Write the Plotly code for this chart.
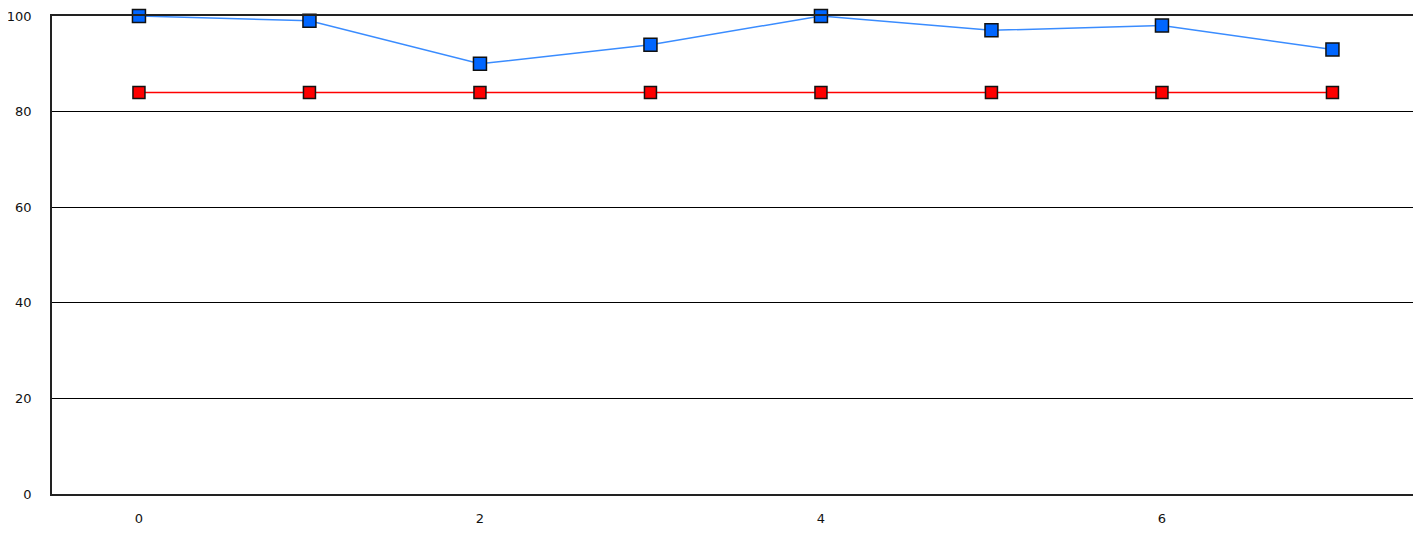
import plotly.graph_objects as go

x_vals = [0, 1, 2, 3, 4, 5, 6, 7]
blue_vals = [100, 99, 90, 94, 100, 97, 98, 93]
red_vals = [84, 84, 84, 84, 84, 84, 84, 84]
x_ticks = [0, 2, 4, 6]
y_ticks = [0, 20, 40, 60, 80, 100]

fig = go.Figure()
fig.add_trace(go.Scatter(
    x=x_vals, y=red_vals, mode="lines+markers",
    line=dict(color="#ff0000", width=1.5),
    marker=dict(symbol="square", size=12, color="#ff0000", line=dict(color="#111111", width=1.5)),
    cliponaxis=False, showlegend=False))
fig.add_trace(go.Scatter(
    x=x_vals, y=blue_vals, mode="lines+markers",
    line=dict(color="#3a8cff", width=1.5),
    marker=dict(symbol="square", size=13, color="#0066ff", line=dict(color="#111111", width=1.5)),
    cliponaxis=False, showlegend=False))

fig.update_layout(
    width=1413, height=529,
    margin=dict(l=44, r=5, t=7.5, b=43),
    paper_bgcolor="white", plot_bgcolor="white",
    font=dict(family="DejaVu Sans, Verdana, sans-serif", size=13, color="#111111"),
    xaxis=dict(range=[-0.51, 7.49], tickvals=x_ticks, ticktext=[str(v) for v in x_ticks],
               showgrid=False, zeroline=False, showline=True, linecolor="#222222", linewidth=1.5,
               mirror=True, ticks="", ticklabelstandoff=12, ticklabeloverflow="allow",
               automargin=False),
    yaxis=dict(range=[0, 100], tickvals=y_ticks, ticktext=[str(v) for v in y_ticks],
               showgrid=True, gridcolor="#000000", gridwidth=1, zeroline=False,
               showline=True, linecolor="#222222", linewidth=1.5, mirror=True, ticks="",
               ticklabelstandoff=16, ticklabeloverflow="allow", automargin=False),
)

fig.write_html("out.html")
